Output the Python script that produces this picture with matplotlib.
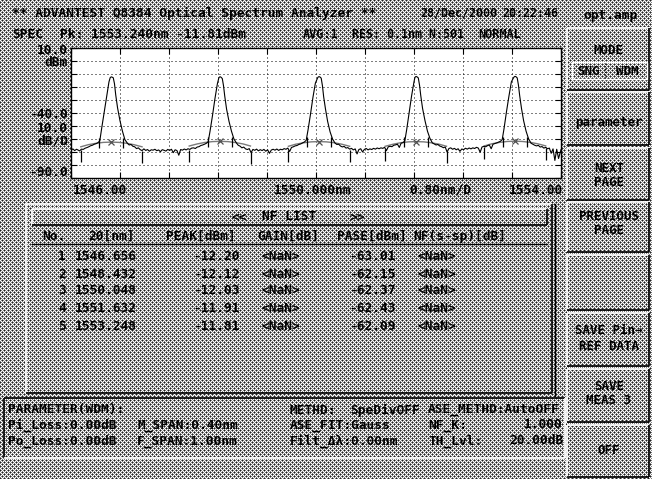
import numpy as np
import matplotlib
matplotlib.use("Agg")
import matplotlib.pyplot as plt
from matplotlib.patches import Rectangle

W, H = 652, 479
MONO = "DejaVu Sans Mono"

# spectrum trace: wavelength [nm], level [dBm]
wl = [1546.00, 1546.03, 1546.06, 1546.09, 1546.12, 1546.14, 1546.17, 1546.20, 1546.23, 1546.26,
      1546.29, 1546.32, 1546.35, 1546.38, 1546.41, 1546.44, 1546.47,
      1546.50, 1546.54, 1546.58, 1546.62, 1546.64, 1546.656, 1546.67, 1546.69, 1546.71, 1546.73,
      1546.76, 1546.80, 1546.84, 1546.88, 1546.92, 1546.95, 1546.98, 1547.01, 1547.04, 1547.07,
      1547.10, 1547.13, 1547.16, 1547.19, 1547.22, 1547.25, 1547.28, 1547.31, 1547.34, 1547.37,
      1547.40, 1547.43, 1547.46, 1547.49, 1547.52, 1547.55, 1547.58, 1547.61, 1547.64, 1547.67,
      1547.70, 1547.73, 1547.76, 1547.79, 1547.82, 1547.85, 1547.88, 1547.91, 1547.94, 1547.97,
      1548.00, 1548.03, 1548.06, 1548.09, 1548.12, 1548.15, 1548.18, 1548.21, 1548.24,
      1548.27, 1548.31, 1548.35, 1548.39, 1548.415, 1548.432, 1548.45, 1548.47, 1548.49, 1548.51,
      1548.54, 1548.58, 1548.62, 1548.66, 1548.70, 1548.73, 1548.76, 1548.79, 1548.82, 1548.85,
      1548.88, 1548.91, 1548.94, 1548.97, 1549.00, 1549.03, 1549.06, 1549.09, 1549.12, 1549.15,
      1549.18, 1549.21, 1549.24, 1549.27, 1549.30, 1549.33, 1549.36, 1549.39, 1549.42, 1549.45,
      1549.48, 1549.51, 1549.54, 1549.57, 1549.60, 1549.63, 1549.66, 1549.69, 1549.72, 1549.75,
      1549.78, 1549.81, 1549.84,
      1549.87, 1549.91, 1549.95, 1549.99, 1550.03, 1550.048, 1550.065, 1550.085, 1550.105, 1550.125,
      1550.155, 1550.19, 1550.23, 1550.27, 1550.31, 1550.34, 1550.37, 1550.40, 1550.43, 1550.46,
      1550.49, 1550.52, 1550.55, 1550.58, 1550.61, 1550.64, 1550.67, 1550.70, 1550.73, 1550.76,
      1550.79, 1550.82, 1550.85, 1550.88, 1550.91, 1550.94, 1550.97, 1551.00, 1551.03, 1551.06,
      1551.09, 1551.12, 1551.15, 1551.18, 1551.21, 1551.24, 1551.27, 1551.30, 1551.33, 1551.36,
      1551.39, 1551.42, 1551.45,
      1551.48, 1551.52, 1551.56, 1551.60, 1551.615, 1551.632, 1551.65, 1551.67, 1551.69, 1551.71,
      1551.74, 1551.78, 1551.82, 1551.86, 1551.90, 1551.93, 1551.96, 1551.99, 1552.02, 1552.05,
      1552.08, 1552.11, 1552.14, 1552.17, 1552.20, 1552.23, 1552.26, 1552.29, 1552.32, 1552.35,
      1552.38, 1552.41, 1552.44, 1552.47, 1552.50, 1552.53, 1552.56, 1552.59, 1552.62, 1552.65,
      1552.68, 1552.71, 1552.74, 1552.77, 1552.80, 1552.83, 1552.86, 1552.89, 1552.92, 1552.95,
      1552.98, 1553.01, 1553.04,
      1553.07, 1553.11, 1553.15, 1553.19, 1553.23, 1553.248, 1553.265, 1553.285, 1553.305, 1553.325,
      1553.355, 1553.39, 1553.43, 1553.47, 1553.51, 1553.54, 1553.57, 1553.60, 1553.63, 1553.66,
      1553.69, 1553.72, 1553.75, 1553.78, 1553.81, 1553.84, 1553.87, 1553.90, 1553.93, 1553.96,
      1554.00]
lvl = [-68.8, -67.6, -68.9, -67.9, -68.6, -69.2, -67.8, -68.0, -67.1, -66.6,
       -66.0, -65.2, -64.8, -64.0, -63.6, -62.8, -61.5,
       -52.0, -40.0, -27.5, -16.0, -12.8, -12.2, -12.4, -12.9, -17.5, -26.0,
       -36.0, -46.0, -54.0, -60.5, -63.2, -64.6, -64.2, -65.6, -66.0, -67.4,
       -66.8, -68.2, -68.9, -67.6, -68.8, -68.1, -69.4, -68.3, -68.6, -67.9,
       -69.0, -68.4, -69.8, -68.2, -68.7, -69.3, -68.0, -68.8, -67.9, -70.5,
       -68.3, -68.9, -72.5, -68.1, -68.6, -67.7, -68.4, -67.5, -68.0, -67.0,
       -66.8, -67.3, -66.2, -65.9, -65.0, -64.6, -64.0, -63.3, -62.1,
       -54.0, -42.0, -29.0, -17.5, -12.8, -12.1, -12.5, -13.5, -19.0, -27.0,
       -37.0, -46.5, -54.0, -60.0, -63.0, -64.8, -65.5, -66.8, -66.2, -67.6,
       -68.1, -67.4, -70.5, -68.0, -68.7, -67.8, -69.1, -68.2, -68.9, -68.0,
       -69.4, -68.3, -71.0, -68.5, -67.9, -68.6, -67.7, -68.8, -67.9, -68.3,
       -67.4, -67.9, -67.0, -69.6, -66.5, -66.0, -65.3, -65.0, -64.2, -63.8,
       -63.0, -62.3, -61.0,
       -53.0, -41.0, -28.0, -17.0, -12.6, -12.0, -12.3, -13.2, -19.0, -27.5,
       -37.0, -46.5, -54.5, -60.0, -63.1, -64.2, -64.0, -65.4, -66.1, -65.7,
       -67.0, -66.6, -67.8, -67.2, -68.4, -67.6, -71.5, -68.1, -67.5, -70.0,
       -68.0, -67.3, -68.4, -67.6, -68.1, -67.2, -67.8, -66.9, -67.5, -66.8,
       -67.2, -66.4, -68.9, -66.0, -65.6, -65.9, -64.8, -64.5, -64.0, -66.5,
       -63.2, -62.8, -61.5,
       -53.0, -40.0, -27.0, -16.0, -12.6, -11.9, -12.2, -13.0, -18.5, -26.5,
       -36.5, -46.0, -54.0, -59.5, -63.0, -63.8, -64.6, -64.2, -65.4, -65.9,
       -66.7, -66.2, -70.0, -67.3, -66.8, -67.9, -67.2, -68.3, -67.5, -69.5,
       -67.7, -68.2, -67.1, -67.8, -66.9, -67.6, -66.8, -67.3, -66.4, -67.0,
       -70.2, -66.2, -65.6, -66.0, -65.1, -64.6, -67.5, -64.0, -63.5, -63.0,
       -62.4, -61.8, -60.5,
       -52.0, -39.0, -27.0, -16.0, -12.5, -11.8, -12.1, -13.0, -18.5, -26.5,
       -36.5, -46.0, -54.0, -59.8, -63.2, -64.0, -64.8, -65.3, -64.9, -66.2,
       -65.8, -67.0, -66.4, -67.5, -67.0, -71.0, -67.6, -76.5, -67.9, -75.0,
       -68.2]

# ASE gauss fit drawn around each channel
fit_wl = [
    [1546.16, 1546.28, 1546.41, 1546.53, 1546.66, 1546.78, 1546.91, 1547.03, 1547.16],
    [1547.93, 1548.06, 1548.18, 1548.31, 1548.43, 1548.56, 1548.68, 1548.81, 1548.93],
    [1549.55, 1549.67, 1549.80, 1549.92, 1550.05, 1550.17, 1550.30, 1550.42, 1550.55],
    [1551.13, 1551.26, 1551.38, 1551.51, 1551.63, 1551.76, 1551.88, 1552.01, 1552.13],
    [1552.75, 1552.87, 1553.00, 1553.12, 1553.25, 1553.37, 1553.50, 1553.62, 1553.75],
]
fit_lvl = [
    [-66.0, -64.4, -63.3, -62.6, -62.4, -62.6, -63.3, -64.4, -66.0],
    [-65.4, -63.8, -62.7, -62.0, -61.8, -62.0, -62.7, -63.8, -65.4],
    [-65.6, -64.0, -62.9, -62.2, -62.0, -62.2, -62.9, -64.0, -65.6],
    [-65.6, -64.0, -62.9, -62.2, -62.0, -62.2, -62.9, -64.0, -65.6],
    [-65.3, -63.7, -62.6, -61.9, -61.7, -61.9, -62.6, -63.7, -65.3],
]

# NF LIST table
ch_no = [1, 2, 3, 4, 5]
ch_wl = [1546.656, 1548.432, 1550.048, 1551.632, 1553.248]
ch_peak = [-12.20, -12.12, -12.03, -11.91, -11.81]
ch_pase = [-63.01, -62.15, -62.37, -62.43, -62.09]

m_span = 0.40
f_span = 1.00

fig = plt.figure(figsize=(W / 100, H / 100), dpi=100)
fig.patch.set_facecolor("#a4a4a4")

bg = fig.add_axes([0, 0, 1, 1])
bg.axis("off")

# dithered screen background (LCD halftone)
tile = np.array([[255, 130, 30, 130],
                 [130, 255, 130, 255],
                 [30, 130, 255, 130],
                 [130, 255, 130, 255]])
dither = np.tile(tile, (H // 4 + 1, W // 4 + 1))[:H, :W]
bg.imshow(dither, cmap="gray", vmin=0, vmax=255, extent=(0, W, H, 0),
          interpolation="nearest", aspect="auto", zorder=0)
bg.set_xlim(0, W)
bg.set_ylim(H, 0)


def txt(x, y, s, ha="left", size=9.3, **kw):
    kw.setdefault("weight", "bold")
    bg.text(x, y, s, ha=ha, va="center", fontsize=size, family=MONO,
            color="black", zorder=5, **kw)


def bevel(x0, y0, x1, y1, light="white", dark="black", lw=1.2):
    kw = dict(lw=lw, solid_capstyle="butt", zorder=3)
    bg.plot([x0, x1], [y0, y0], color=light, **kw)
    bg.plot([x0, x0], [y0, y1], color=light, **kw)
    bg.plot([x0, x1], [y1, y1], color=dark, **kw)
    bg.plot([x1, x1], [y0, y1], color=dark, **kw)


# header lines
txt(12, 13, "** ADVANTEST Q8384 Optical Spectrum Analyzer **")
txt(420, 13, "28/Dec/2000", size=8.4)
txt(558, 13, "20:22:46", ha="right", size=8.4)
txt(12, 34, "SPEC")
txt(60, 34, "Pk: 1553.240nm -11.81dBm")
txt(303, 34, "AVG:1", size=8.6)
txt(352, 34, "RES: 0.1nm N:501", size=8.4)
txt(478, 34, "NORMAL", size=8.6)

# y-axis labels of the screen
txt(68, 50, "10.0", ha="right")
txt(68, 62, "dBm", ha="right")
txt(68, 114, "-40.0", ha="right")
txt(68, 129, "10.0", ha="right")
txt(68, 141, "dB/D", ha="right")
txt(68, 172, "-90.0", ha="right")

# spectrum plot
ax = fig.add_axes([71 / W, 1 - 178 / H, 490 / W, 130 / H])
ax.set_facecolor("white")
ax.set_xlim(1546, 1554)
ax.set_ylim(-90, 10)
ax.set_xticks(np.linspace(1546, 1554, 11))
ax.set_yticks(np.linspace(-90, 10, 11))
ax.tick_params(direction="in", length=4, width=0.8, top=True, right=True,
               labelbottom=False, labelleft=False)
ax.grid(True, color="black", lw=0.72, ls=(0, (1, 3)))
for sp in ax.spines.values():
    sp.set_linewidth(1.0)
    sp.set_color("black")

for fx, fy in zip(fit_wl, fit_lvl):
    ax.plot(fx, fy, color="#7a7a7a", lw=1.0)
ax.plot(wl, lvl, color="black", lw=0.8)

fit_c = [np.interp(c, fx, fy) for c, fx, fy in zip(ch_wl, fit_wl, fit_lvl)]
ax.plot(ch_wl, fit_c, ls="none", marker="x", ms=4, mew=0.9, color="#505050")
for c, fx, fy in zip(ch_wl, fit_wl, fit_lvl):
    ms_pos = [c - m_span / 2, c + m_span / 2]
    ax.plot(ms_pos, np.interp(ms_pos, fx, fy), ls="none", marker="|",
            ms=7, mew=0.9, color="black")
    fs_pos = [c - f_span / 2, c + f_span / 2]
    ax.plot(fs_pos, np.interp(fs_pos, wl, lvl) - 5, ls="none", marker="|",
            ms=9, mew=0.9, color="black")

txt(73, 190, "1546.00")
txt(313, 190, "1550.000nm", ha="center")
txt(440, 190, "0.80nm/D", ha="center")
txt(563, 190, "1554.00", ha="right")

# NF list panel
bevel(26, 204, 552, 393, light="white", dark="black")
bg.plot([555, 555], [204, 396], color="black", lw=1.0, zorder=3)
bevel(32, 209, 547, 225, light="white", dark="black")
txt(232, 217, "<<")
txt(262, 217, "NF LIST")
txt(350, 217, ">>")
bg.plot([32, 547], [244, 244], color="black", lw=1.0, zorder=3)
txt(42, 236, "No.")
txt(88, 236, "20[nm]")
txt(166, 236, "PEAK[dBm]")
txt(257, 236, "GAIN[dB]")
txt(337, 236, "PASE[dBm]")
txt(413, 236, "NF(s-sp)[dB]")
row_y = [257, 274, 291, 309, 326]
for y, n, w, p, a in zip(row_y, ch_no, ch_wl, ch_peak, ch_pase):
    txt(66, y, str(n), ha="right")
    txt(75, y, f"{w:.3f}")
    txt(240, y, f"{p:.2f}", ha="right")
    txt(262, y, "<NaN>")
    txt(396, y, f"{a:.2f}", ha="right")
    txt(418, y, "<NaN>")

# parameter panel
bevel(4, 398, 565, 458, light="black", dark="white")
txt(8, 410, "PARAMETER(WDM):")
txt(8, 425, "Pi_Loss:0.00dB")
txt(8, 441, "Po_Loss:0.00dB")
txt(137, 425, "M_SPAN:0.40nm")
txt(137, 441, "F_SPAN:1.00nm")
txt(290, 410, "METHD:")
txt(350, 410, "SpeDivOFF")
txt(290, 425, "ASE_FIT:Gauss")
txt(290, 441, "Filt_\u0394\u03bb:0.00nm")
txt(428, 410, "ASE_METHD:AutoOFF")
txt(428, 425, "NF_K:")
txt(563, 425, "1.000", ha="right")
txt(428, 441, "TH_Lvl:")
txt(563, 441, "20.00dB", ha="right")

# soft keys
txt(611, 15, "opt.amp", ha="center")
keys = [
    (28, 90, [("MODE", 50)]),
    (92, 145, [("parameter", 122)]),
    (148, 200, [("NEXT", 169), ("PAGE", 182)]),
    (202, 252, [("PREVIOUS", 217), ("PAGE", 230)]),
    (255, 310, []),
    (313, 366, [("SAVE Pin\u2192", 331), ("REF DATA", 347)]),
    (369, 422, [("SAVE", 386), ("MEAS 3", 401)]),
    (425, 477, [("OFF", 451)]),
]
for y0, y1, labels in keys:
    bevel(567, y0, 649, y1)
    for s, y in labels:
        txt(609, y, s, ha="center", size=9)

bg.add_patch(Rectangle((572, 62), 75, 17, facecolor="none", edgecolor="white",
                       lw=1.0, zorder=4))
txt(588, 71, "SNG", ha="center", size=9)
bg.plot([605, 605], [63, 78], color="black", lw=0.8, ls=(0, (1, 1.5)), zorder=4)
txt(627, 71, "WDM", ha="center", size=9)

fig.savefig("out.png", dpi=100)
